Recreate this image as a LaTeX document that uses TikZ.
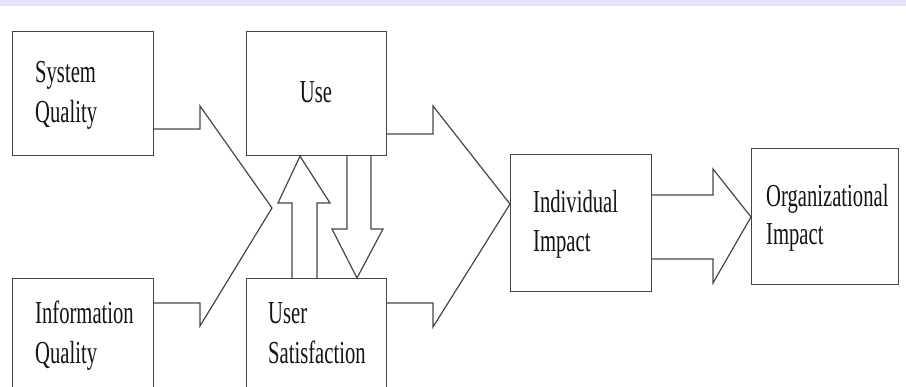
\documentclass[tikz,border=0pt]{standalone}
\usepackage{fontspec}
\newfontfamily\lblfont[FakeStretch=0.645]{Liberation Serif}
\definecolor{linec}{RGB}{70,70,70}
\definecolor{bandc}{RGB}{226,226,246}
\tikzset{
  box/.style={draw=linec, line width=1.2pt, anchor=north west, inner sep=0pt, fill=white},
  lbl/.style={anchor=base west, inner sep=0pt, text=black!92, font=\lblfont\fontsize{32}{40}\selectfont},
  blockarrow/.style={draw=linec, line width=1.2pt, line join=miter}
}
\begin{document}
\begin{tikzpicture}[x=1pt,y=-1pt]
\useasboundingbox (0,0) rectangle (906,387);
\clip (0,0) rectangle (906,387);
\fill[bandc] (0,0) rectangle (906,6);
% boxes
\node[box, minimum width=141pt, minimum height=124pt] (sq) at (12,31) {};
\node[box, minimum width=140pt, minimum height=124pt] (use) at (246,31) {};
\node[box, minimum width=141pt, minimum height=130pt] (iq) at (12,278) {};
\node[box, minimum width=140pt, minimum height=130pt] (us) at (246,278) {};
\node[box, minimum width=141pt, minimum height=137pt] (ii) at (510,154) {};
\node[box, minimum width=147pt, minimum height=136pt] (oi) at (751,148) {};
% labels
\node[lbl] (sqa) at (35,83) {System};
\node[lbl] (sqb) at (35,123) {Quality};
\node[lbl, anchor=base] (usea) at (316,103) {Use};
\node[lbl] (iqa) at (35,324) {Information};
\node[lbl] (iqb) at (35,364) {Quality};
\node[lbl] (usa) at (268,324) {User};
\node[lbl] (usb) at (268,364) {Satisfaction};
\node[lbl] (iia) at (533,213) {Individual};
\node[lbl] (iib) at (533,252) {Impact};
\node[lbl] (oia) at (766,207) {Organizational};
\node[lbl] (oib) at (766,245) {Impact};
% big arrow: System Quality + Information Quality -> Use / User Satisfaction
\draw[blockarrow] (sq.east |- 0,129) -- (200,129) -- (200,106) -- (272,208)
  -- (200,326) -- (200,303) -- (iq.east |- 0,303);
% up arrow: User Satisfaction -> Use
\draw[blockarrow] (us.north -| 292,0) -- (292,203) -- (278,203) -- (use.south -| 300,0)
  -- (330,203) -- (317,203) -- (us.north -| 317,0);
% down arrow: Use -> User Satisfaction
\draw[blockarrow] (use.south -| 347,0) -- (347,229) -- (332,229) -- (us.north -| 357,0)
  -- (383,229) -- (371,229) -- (use.south -| 371,0);
% big arrow: Use + User Satisfaction -> Individual Impact
\draw[blockarrow] (use.east |- 0,134) -- (433,134) -- (433,106) -- (ii.west |- 0,204)
  -- (433,327) -- (433,303) -- (us.east |- 0,303);
% arrow: Individual Impact -> Organizational Impact
\draw[blockarrow] (ii.east |- 0,195) -- (713,195) -- (713,169) -- (oi.west |- 0,217)
  -- (713,283) -- (713,259) -- (ii.east |- 0,259);
\end{tikzpicture}
\end{document}
